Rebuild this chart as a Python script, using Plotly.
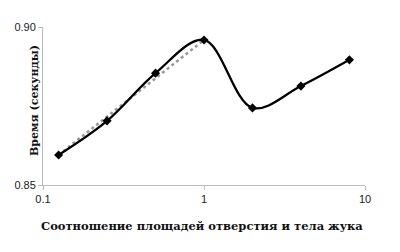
import plotly.graph_objects as go

ratio = [0.125, 0.25, 0.5, 1, 2, 4, 8]
time_s = [0.8595, 0.8703, 0.8854, 0.8959, 0.8744, 0.8813, 0.8896]
trend_x = [0.125, 1]
trend_y = [0.8595, 0.8959]

x_ticks = [0.1, 1, 10]
x_ticklabels = ["0.1", "1", "10"]
y_ticks = [0.85, 0.90]
y_ticklabels = ["0.85", "0.90"]

L, R, T, B = 43, 35, 27, 67
W, H = 400, 252
pw, ph = W - L - R, H - T - B

fig = go.Figure()
fig.add_trace(go.Scatter(x=trend_x, y=trend_y, mode="lines",
                         line=dict(color="#999999", width=2.5, dash="dot"),
                         showlegend=False, hoverinfo="skip"))
fig.add_trace(go.Scatter(x=ratio, y=time_s, mode="lines+markers",
                         line=dict(color="black", width=2.3, shape="spline", smoothing=1.0),
                         marker=dict(symbol="diamond", size=7, color="black"),
                         showlegend=False))

title_font = dict(family="DejaVu Serif", size=11, color="#111111")
fig.add_annotation(text="<b>Соотношение площадей отверстия и тела жука</b>",
                   xref="paper", yref="paper",
                   x=(202 - L) / pw, y=-(226 - (T + ph)) / ph,
                   xanchor="center", yanchor="middle", showarrow=False,
                   font=dict(family="DejaVu Serif", size=11.5, color="#111111"))
fig.add_annotation(text="<b>Время (секунды)</b>",
                   xref="paper", yref="paper",
                   x=-(L - 34) / pw, y=1 - (101 - T) / ph,
                   xanchor="center", yanchor="middle", showarrow=False,
                   textangle=-90, font=title_font)

fig.update_layout(
    width=W, height=H,
    margin=dict(l=L, r=R, t=T, b=B),
    paper_bgcolor="white", plot_bgcolor="white",
    font=dict(family="Liberation Sans, Arial", size=11, color="#222222"),
    xaxis=dict(type="log", range=[-1, 1], tickvals=x_ticks, ticktext=x_ticklabels,
               showgrid=False, showline=True, linecolor="#bbbbbb", linewidth=1,
               ticks="outside", ticklen=4, tickcolor="#bbbbbb", zeroline=False,
               automargin=False),
    yaxis=dict(range=[0.85, 0.90], tickvals=y_ticks, ticktext=y_ticklabels,
               showgrid=False, showline=True, linecolor="#bbbbbb", linewidth=1,
               ticks="outside", ticklen=4, tickcolor="#bbbbbb", zeroline=False,
               automargin=False),
)

fig.write_html("out.html")
